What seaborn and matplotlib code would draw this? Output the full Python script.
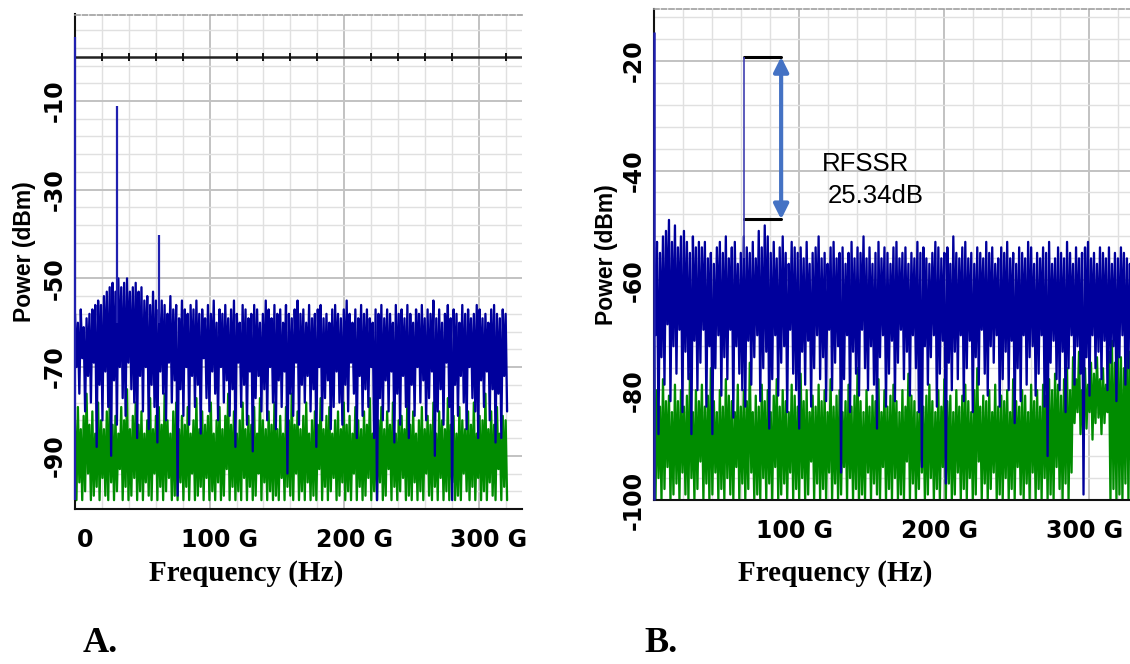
import numpy as np
import pandas as pd
import matplotlib
matplotlib.use("Agg")
import matplotlib.pyplot as plt
import matplotlib.transforms as mtransforms
from matplotlib.ticker import MultipleLocator, FixedLocator
import seaborn as sns

# ------------------------------------------------------------------ data
# Panel A : spectrum (GHz, dBm). Trace alternates local peaks and dips.
span_a = 322.0
blue_a_peaks = [
    -58, -60, -57, -61, -59, -58, -57, -56, -55, -56,
    -54, -53, -52, -51, -53, -50, -52, -51, -50, -53,
    -52, -51, -53, -52, -55, -54, -56, -53, -55, -57,
    -55, -56, -58, -54, -57, -56, -59, -55, -57, -58,
    -56, -57, -55, -58, -57, -59, -56, -58, -55, -60,
    -57, -58, -56, -59, -57, -55, -58, -60, -56, -57,
    -59, -58, -56, -57, -60, -58, -55, -57, -59, -56,
    -58, -57, -60, -56, -58, -59, -57, -55, -58, -57,
    -60, -56, -59, -58, -57, -56, -59, -58, -60, -57,
    -56, -58, -59, -57, -55, -58, -60, -57, -59, -56,
    -58, -57, -59, -60, -57, -58, -56, -59, -57, -58,
    -60, -56, -58, -57, -59, -56, -58, -60, -57, -58,
    -56, -59, -57, -58, -55, -59, -57, -60, -58, -56,
    -59, -57, -58, -60, -56, -58, -57, -59, -58, -56,
    -57, -59, -58, -60, -57, -56, -58, -59, -57, -58]
blue_a_dips = [
    -70, -76, -68, -80, -72, -78, -69, -88, -74, -82,
    -71, -79, -90, -73, -83, -70, -77, -81, -69, -75,
    -78, -86, -72, -80, -70, -84, -74, -79, -87, -71,
    -76, -82, -69, -78, -73, -99, -75, -81, -70, -83,
    -72, -79, -74, -85, -68, -77, -80, -71, -76, -82,
    -70, -78, -73, -81, -75, -88, -69, -79, -74, -83,
    -71, -89, -77, -72, -80, -75, -82, -70, -78, -84,
    -73, -79, -71, -94, -76, -81, -69, -83, -74, -78,
    -72, -80, -75, -88, -70, -82, -77, -73, -84, -79,
    -71, -78, -83, -74, -80, -69, -76, -86, -72, -81,
    -75, -79, -70, -86, -100, -77, -82, -73, -80, -71,
    -87, -76, -83, -72, -79, -86, -74, -81, -70, -78,
    -73, -82, -77, -71, -90, -80, -75, -83, -69, -79,
    -100, -74, -81, -72, -78, -84, -70, -77, -80, -86,
    -73, -79, -71, -82, -75, -87, -76, -86, -72, -80]
green_a_peaks = [
    -82, -79, -84, -81, -76, -83, -80, -85, -78, -82,
    -84, -80, -77, -83, -81, -85, -79, -82, -75, -84,
    -81, -78, -83, -80, -85, -82, -77, -84, -81, -79,
    -83, -76, -82, -85, -80, -78, -84, -81, -83, -79,
    -85, -82, -77, -84, -80, -83, -81, -78, -85, -82,
    -79, -84, -81, -76, -83, -80, -85, -82, -78, -84,
    -81, -83, -79, -85, -77, -82, -84, -80, -83, -78,
    -84, -81, -85, -79, -82, -76, -83, -80, -84, -81,
    -78, -85, -82, -80, -83, -77, -84, -81, -79, -85,
    -82, -80, -84, -78, -83, -81, -85, -79, -82, -84,
    -80, -83, -77, -85, -81, -82, -79, -84, -80, -83,
    -78, -85, -82, -81, -84, -76, -83, -80, -85, -82,
    -79, -84, -81, -83, -78, -85, -80, -82, -84, -77,
    -83, -81, -85, -79, -82, -84, -80, -83, -78, -85,
    -81, -82, -76, -84, -80, -83, -79, -85, -81, -82]
green_a_dips = [
    -100, -96, -100, -98, -94, -100, -99, -97, -100, -95,
    -99, -100, -96, -100, -98, -93, -100, -97, -100, -99,
    -95, -100, -98, -100, -96, -99, -100, -94, -100, -97,
    -100, -98, -95, -100, -99, -100, -96, -100, -97, -100,
    -94, -100, -99, -97, -100, -95, -100, -98, -100, -96,
    -100, -99, -93, -100, -97, -100, -98, -100, -95, -100,
    -97, -100, -99, -94, -100, -96, -100, -98, -100, -99,
    -100, -95, -100, -97, -99, -100, -94, -100, -98, -100,
    -96, -100, -99, -100, -93, -100, -97, -100, -98, -95,
    -100, -99, -96, -100, -98, -100, -94, -100, -97, -100,
    -99, -95, -100, -98, -100, -96, -100, -99, -93, -100,
    -97, -100, -98, -95, -100, -99, -100, -96, -100, -98,
    -100, -94, -99, -100, -97, -100, -95, -100, -98, -100,
    -96, -100, -99, -100, -94, -98, -100, -97, -100, -95,
    -100, -98, -100, -96, -99, -100, -93, -100, -97, -100]
tone_freq_a = [0.0, 31.5, 62.7]
tone_level_a = [4.4, -11.2, -40.2]
tone_base_a = [-100, -60, -60]

# Panel B
span_b = 330.0
blue_b_peaks = [
    -54, -53, -55, -52, -51, -49, -53, -50, -54, -52,
    -51, -53, -55, -52, -54, -53, -54, -53, -56, -55,
    -57, -54, -53, -55, -52, -56, -54, -53, -57, -55,
    -52, -54, -55, -53, -56, -51, -54, -50, -52, -55,
    -53, -56, -54, -52, -55, -57, -53, -54, -55, -54,
    -56, -53, -57, -55, -54, -52, -56, -55, -57, -54,
    -53, -56, -55, -54, -57, -55, -53, -56, -54, -55,
    -52, -56, -54, -57, -55, -53, -56, -54, -55, -57,
    -54, -53, -56, -55, -54, -57, -55, -56, -53, -55,
    -54, -56, -57, -55, -53, -54, -56, -55, -54, -57,
    -52, -55, -56, -54, -53, -56, -55, -57, -54, -55,
    -56, -53, -55, -54, -57, -56, -54, -55, -53, -56,
    -55, -57, -54, -55, -56, -53, -54, -57, -55, -56,
    -54, -55, -53, -57, -56, -54, -55, -56, -53, -55,
    -57, -54, -56, -55, -54, -53, -56, -55, -57, -54,
    -55, -56, -54, -57, -55, -56, -54, -55, -56, -57]
blue_b_dips = [
    -70, -88, -74, -79, -68, -82, -72, -77, -69, -84,
    -73, -78, -88, -71, -80, -75, -69, -83, -72, -88,
    -76, -70, -81, -74, -78, -69, -85, -72, -77, -80,
    -83, -71, -79, -74, -70, -82, -76, -73, -87, -78,
    -70, -81, -75, -72, -84, -69, -77, -80, -87, -73,
    -79, -71, -83, -76, -70, -78, -74, -82, -69, -80,
    -75, -72, -95, -78, -70, -84, -73, -77, -81, -69,
    -76, -80, -72, -79, -87, -74, -70, -83, -77, -71,
    -82, -75, -69, -78, -73, -81, -70, -76, -84, -94,
    -72, -79, -74, -70, -83, -77, -71, -97, -75, -80,
    -73, -78, -70, -82, -76, -71, -84, -74, -79, -69,
    -77, -81, -72, -75, -70, -83, -78, -73, -80, -71,
    -86, -76, -82, -70, -79, -74, -72, -81, -77, -70,
    -83, -92, -75, -71, -78, -80, -73, -84, -76, -70,
    -79, -72, -77, -99, -74, -81, -70, -76, -73, -78,
    -71, -80, -75, -72, -82, -74, -70, -79, -76, -73]
green_b_peaks = [
    -71, -80, -83, -78, -82, -81, -84, -79, -82, -80,
    -83, -81, -77, -84, -80, -82, -79, -83, -81, -76,
    -82, -84, -80, -83, -78, -81, -82, -84, -79, -83,
    -80, -82, -75, -84, -81, -83, -79, -82, -80, -84,
    -81, -78, -83, -80, -82, -84, -79, -81, -83, -77,
    -82, -80, -84, -81, -83, -79, -82, -80, -84, -78,
    -83, -81, -80, -84, -82, -79, -83, -81, -76, -82,
    -84, -80, -83, -81, -82, -78, -84, -80, -83, -81,
    -79, -82, -84, -80, -83, -77, -81, -82, -84, -80,
    -83, -81, -79, -82, -84, -80, -83, -78, -82, -81,
    -84, -80, -83, -81, -79, -82, -84, -80, -76, -83,
    -81, -82, -80, -84, -79, -83, -81, -82, -80, -84,
    -78, -82, -83, -80, -81, -84, -79, -82, -80, -83,
    -79, -81, -78, -80, -77, -79, -81, -78, -76, -80,
    -74, -78, -73, -80, -76, -79, -75, -77, -74, -78,
    -76, -79, -73, -71, -75, -72, -74, -76, -71, -73]
green_b_dips = [
    -100, -96, -100, -98, -94, -100, -99, -97, -100, -95,
    -99, -100, -96, -100, -98, -93, -100, -97, -100, -99,
    -95, -100, -98, -100, -96, -99, -100, -94, -100, -97,
    -100, -98, -95, -100, -99, -100, -96, -100, -97, -100,
    -94, -100, -99, -97, -100, -95, -100, -98, -100, -96,
    -100, -99, -93, -100, -97, -100, -98, -100, -95, -100,
    -97, -100, -99, -94, -100, -96, -100, -98, -100, -99,
    -100, -95, -100, -97, -99, -100, -94, -100, -98, -100,
    -96, -100, -99, -100, -93, -100, -97, -100, -98, -95,
    -100, -99, -96, -100, -98, -100, -94, -100, -97, -100,
    -99, -95, -100, -98, -100, -96, -100, -99, -93, -100,
    -97, -100, -98, -95, -100, -99, -100, -96, -100, -98,
    -100, -94, -99, -100, -97, -100, -95, -100, -98, -100,
    -96, -100, -99, -100, -94, -98, -100, -97, -100, -95,
    -86, -84, -88, -85, -87, -84, -89, -86, -85, -88,
    -86, -84, -100, -98, -100, -99, -100, -97, -100, -100]
tone_freq_b = [0.0]
tone_level_b = [-14.7]
tone_base_b = [-100]

rfssr_x = [62.3, 87.6]
rfssr_top = -19.3
rfssr_bottom = -48.9
rfssr_label = "RFSSR"
rfssr_value = "25.34dB"

xticks_a = [0, 100, 200, 300]
xtick_labels_a = ["0", "100 G", "200 G", "300 G"]
yticks_a = [-10, -30, -50, -70, -90]
xticks_b = [0, 100, 200, 300]
xtick_labels_b = ["", "100 G", "200 G", "300 G"]
yticks_b = [-20, -40, -60, -80, -100]

BLUE = "#00009C"
GREEN = "#008C00"
TRACE_LW = 1.65

# ------------------------------------------------------------------ helpers
def trace(peaks, dips, span):
    n = min(len(peaks), len(dips))
    step = span / n
    f, p = [], []
    for i in range(n):
        f += [i * step, (i + 0.5) * step]
        p += [peaks[i], dips[i]]
    return pd.DataFrame({"freq": f, "power": p})


sns.set_style("white")
plt.rcParams["font.family"] = ["DejaVu Sans"]
plt.rcParams["text.color"] = "black"
plt.rcParams["axes.labelcolor"] = "black"

fig = plt.figure(figsize=(11.3, 6.64), dpi=100)
W, H = 1130.0, 664.0
axA = fig.add_axes([75 / W, 1 - 509 / H, 447 / W, (509 - 14.5) / H])
axB = fig.add_axes([654 / W, 1 - 500 / H, 476 / W, (500 - 8.5) / H])


def style(ax, xlim, ylim, yminor, xticks, xlabels, yticks, xoff):
    ax.set_xlim(*xlim)
    ax.set_ylim(*ylim)
    ax.set_axisbelow(True)
    ax.xaxis.set_minor_locator(MultipleLocator(20))
    ax.yaxis.set_minor_locator(FixedLocator(yminor))
    ax.set_xticks(xticks, labels=xlabels)
    ax.set_yticks(yticks, labels=[str(v) for v in yticks])
    ax.grid(which="minor", color="#e0e0e0", lw=1.0)
    ax.grid(which="major", color="#c2c2c2", lw=1.4)
    ax.tick_params(axis="both", which="both", length=4, width=1.2,
                   color="#333333", direction="out", labelcolor="black")
    ax.tick_params(axis="y", pad=2)
    ax.tick_params(axis="x", pad=10)
    for lab in ax.get_xticklabels():
        lab.set_fontsize(17)
        lab.set_fontweight("bold")
        lab.set_transform(lab.get_transform() +
                          mtransforms.ScaledTranslation(xoff / 100, 0, fig.dpi_scale_trans))
    for lab in ax.get_yticklabels():
        lab.set_fontsize(17)
        lab.set_fontweight("bold")
        lab.set_rotation(90)
        lab.set_va("center")
    ax.spines["right"].set_visible(False)
    ax.spines["top"].set_linestyle((0, (3, 1.5)))
    ax.spines["top"].set_color("#a0a0a0")
    ax.spines["top"].set_linewidth(1.2)
    for s in ("left", "bottom"):
        ax.spines[s].set_color("#111111")
        ax.spines[s].set_linewidth(1.5)


# ------------------------------------------------------------------ panel A
sns.lineplot(data=trace(green_a_peaks, green_a_dips, span_a), x="freq", y="power",
             ax=axA, color=GREEN, linewidth=TRACE_LW, estimator=None, sort=False)
sns.lineplot(data=trace(blue_a_peaks, blue_a_dips, span_a), x="freq", y="power",
             ax=axA, color=BLUE, linewidth=TRACE_LW, estimator=None, sort=False)
axA.vlines(tone_freq_a, tone_base_a, tone_level_a, color="#2020B0", lw=1.6,
           zorder=3, clip_on=False)
style(axA, (0, 332), (-102, 9.5), np.arange(-102, 9, 4), xticks_a, xtick_labels_a,
      yticks_a, 10)
axA.axhline(0, color="#222222", lw=1.8, zorder=2.6)
minor_x = [v for v in axA.xaxis.get_minorticklocs() if 0 < v <= 332]
axA.plot(minor_x, [0] * len(minor_x), ls="none", marker="|", ms=6, mew=1.4,
         color="#111111", zorder=2.7)

# ------------------------------------------------------------------ panel B
sns.lineplot(data=trace(green_b_peaks, green_b_dips, span_b), x="freq", y="power",
             ax=axB, color=GREEN, linewidth=TRACE_LW, estimator=None, sort=False)
sns.lineplot(data=trace(blue_b_peaks, blue_b_dips, span_b), x="freq", y="power",
             ax=axB, color=BLUE, linewidth=TRACE_LW, estimator=None, sort=False)
axB.vlines(tone_freq_b, tone_base_b, tone_level_b, color="#2020B0", lw=1.8,
           zorder=3, clip_on=False)
style(axB, (0, 328), (-100, -10.5), np.arange(-100, -10, 4), xticks_b, xtick_labels_b,
      yticks_b, -5)

axB.plot(rfssr_x, [rfssr_top, rfssr_top], color="black", lw=2.2, zorder=4)
axB.plot(rfssr_x, [rfssr_bottom, rfssr_bottom], color="black", lw=2.2, zorder=4)
axB.vlines(rfssr_x[0], -56, rfssr_top, color="#4040B0", lw=1.2, zorder=4)
axB.annotate("", xy=(rfssr_x[1], rfssr_bottom), xytext=(rfssr_x[1], rfssr_top),
             arrowprops=dict(arrowstyle="<|-|>", color="#4472C4", lw=3,
                             mutation_scale=22, shrinkA=0, shrinkB=0), zorder=5)
axB.text(115.5, -38.9, rfssr_label, fontsize=18.5, family="Liberation Sans",
         ha="left", va="center", color="black")
axB.text(120.0, -44.6, rfssr_value, fontsize=18.5, family="Liberation Sans",
         ha="left", va="center", color="black")

# ------------------------------------------------------------------ labels
for ax, xl, yl in ((axA, (0.384, -0.13), (-0.114, 0.52)),
                   (axB, (0.38, -0.15), (-0.099, 0.50))):
    ax.set_xlabel("Frequency (Hz)", fontsize=21, fontweight="bold",
                  family="Liberation Serif", color="black")
    ax.set_ylabel("Power (dBm)", fontsize=16.5, fontweight="bold",
                  family="Liberation Sans", color="black")
    ax.xaxis.label.set_va("center")
    ax.yaxis.label.set_va("center")
    ax.xaxis.set_label_coords(*xl)
    ax.yaxis.set_label_coords(*yl)

fig.text(100 / W, 1 - 644 / H, "A.", fontsize=26, fontweight="bold",
         family="Liberation Serif", ha="center", va="center")
fig.text(661 / W, 1 - 644 / H, "B.", fontsize=26, fontweight="bold",
         family="Liberation Serif", ha="center", va="center")

fig.savefig("out.png", dpi=100, facecolor="white")
